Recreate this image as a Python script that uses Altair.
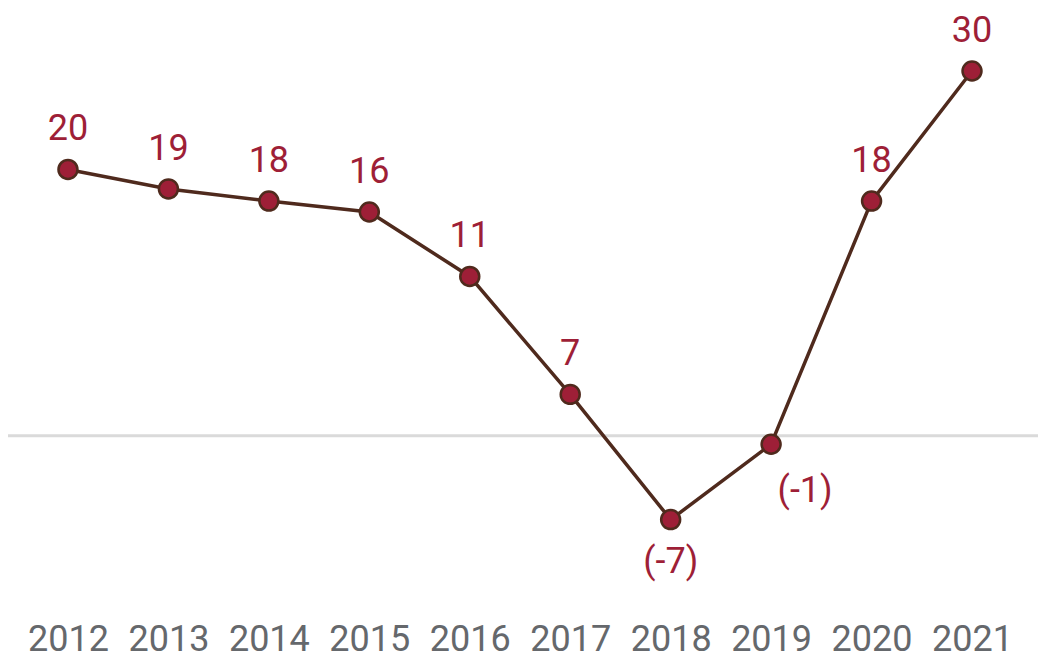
import altair as alt
import pandas as pd

years = [2012, 2013, 2014, 2015, 2016, 2017, 2018, 2019, 2020, 2021]
plot_values = [21.9, 20.3, 19.3, 18.4, 13.1, 3.4, -6.9, -0.7, 19.3, 30.0]
labels = ["20", "19", "18", "16", "11", "7", "(-7)", "(-1)", "18", "30"]

df = pd.DataFrame({"year": years, "value": plot_values, "label": labels})

RED = "#9e1f37"
BROWN = "#4f2a1d"
YDOM = [-10.88, 35.18]

x = alt.X("year:Q",
          scale=alt.Scale(domain=[2011.403, 2021.657], nice=False, zero=False),
          axis=alt.Axis(values=years, format="d", title=None, domain=False, ticks=False,
                        grid=False, labelFontSize=36, labelColor="#65686c", labelFont="Roboto",
                        labelBaseline="alphabetic", labelPadding=82, labelFlush=False))
y = alt.Y("value:Q", scale=alt.Scale(domain=YDOM, nice=False, zero=False), axis=None)

base = alt.Chart(df)

zero = alt.Chart(pd.DataFrame({"z": [0]})).mark_rule(color="#dadada", strokeWidth=3).encode(
    y=alt.Y("z:Q", scale=alt.Scale(domain=YDOM, nice=False, zero=False), axis=None)
)

line = base.mark_line(color=BROWN, strokeWidth=3.5).encode(x=x, y=y)
pts = base.mark_point(filled=True, fill=RED, stroke=BROWN, strokeWidth=2.5, size=360, opacity=1,
                      shape="circle").encode(x=x, y=y)

txt_pos = base.transform_filter("datum.value >= 0").mark_text(
    fontSize=36, font="Roboto", color=RED, dy=-40, baseline="middle").encode(x=x, y=y, text="label:N")
txt_neg = base.transform_filter("datum.value < -3").mark_text(
    fontSize=36, font="Roboto", color=RED, dy=42, baseline="middle").encode(x=x, y=y, text="label:N")
txt_neg2 = base.transform_filter("datum.value < 0 && datum.value >= -3").mark_text(
    fontSize=36, font="Roboto", color=RED, dy=47, dx=34, baseline="middle").encode(x=x, y=y, text="label:N")

chart = alt.layer(zero, line, pts, txt_pos, txt_neg, txt_neg2).properties(
    width=1030, height=560,
    padding={"left": 0, "top": 0, "right": 0, "bottom": 93},
    autosize=alt.AutoSizeParams(type="none"),
).configure_view(strokeWidth=0)

chart.save("out.html", embed_options={"renderer": "svg", "actions": False})
